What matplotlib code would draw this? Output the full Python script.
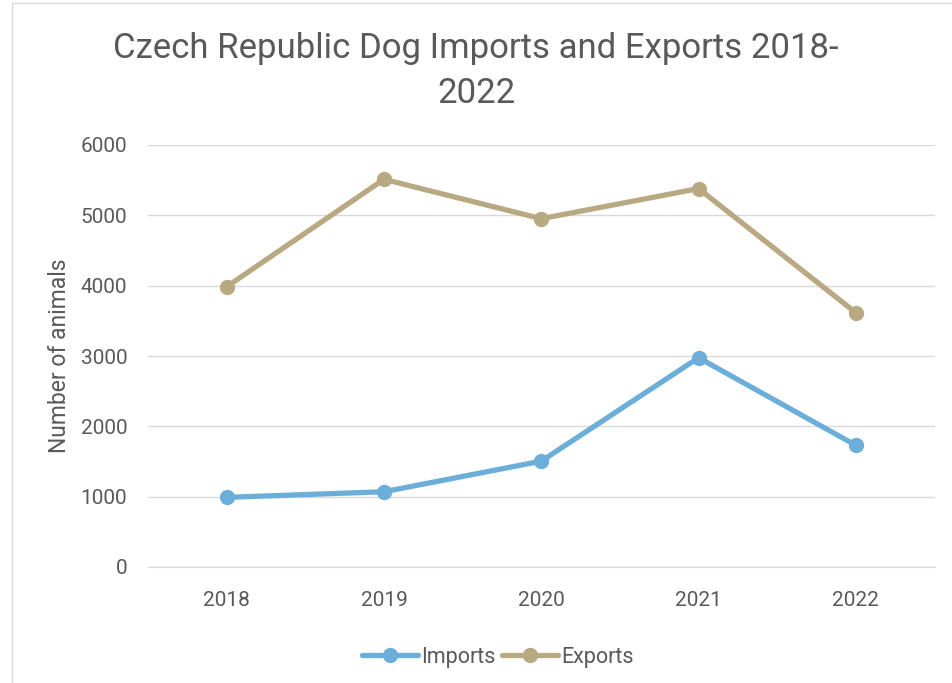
import matplotlib
matplotlib.use("Agg")
import matplotlib.pyplot as plt
from matplotlib.patches import Rectangle

years = ["2018", "2019", "2020", "2021", "2022"]
imports = [990, 1070, 1505, 2975, 1730]
exports = [3985, 5512, 4952, 5380, 3615]
yticks = [0, 1000, 2000, 3000, 4000, 5000, 6000]

plt.rcParams['font.family'] = ['Roboto', 'DejaVu Sans']
txt = '#595959'
c_imp = '#6CAEDA'
c_exp = '#B8A982'

fig = plt.figure(figsize=(9.52, 6.83), dpi=100)
fig.patches.append(Rectangle((12/952, -0.1), 1.2, (683-3)/683 + 0.1, transform=fig.transFigure,
                             fill=False, edgecolor='#D9D9D9', linewidth=1.0))
ax = fig.add_axes([148/952, (683-567)/683, (934.5-148)/952, (567-145)/683])

x = list(range(len(years)))
ax.plot(x, imports, color=c_imp, linewidth=3.8, marker='o', markersize=10, label='Imports',
        solid_capstyle='round')
ax.plot(x, exports, color=c_exp, linewidth=3.8, marker='o', markersize=10, label='Exports',
        solid_capstyle='round')

ax.set_xlim(-0.5, len(years) - 0.5)
ax.set_ylim(0, 6000)
ax.set_yticks(yticks)
ax.set_yticklabels([str(v) for v in yticks])
ax.set_xticks(x)
ax.set_xticklabels(years)
ax.yaxis.grid(True, color='#D9D9D9', linewidth=1.0)
ax.set_axisbelow(True)
for s in ['top', 'right', 'left']:
    ax.spines[s].set_visible(False)
ax.spines['bottom'].set_color('#D9D9D9')
ax.tick_params(axis='both', length=0, labelsize=15, colors=txt)
ax.tick_params(axis='x', pad=17)
ax.tick_params(axis='y', pad=15)
ax.set_ylabel('Number of animals', fontsize=16.5, color=txt, labelpad=7)

fig.text(0.5, 1 - 71/683, 'Czech Republic Dog Imports and Exports 2018-\n2022', ha='center', va='center',
         fontsize=25, color=txt, linespacing=1.44)

leg = fig.legend(loc='center', bbox_to_anchor=(0.523, 1 - 657/683), ncol=2, frameon=False,
                 fontsize=15.5, handlelength=2.6, handletextpad=0.15, columnspacing=0.3)
for t in leg.get_texts():
    t.set_color(txt)

fig.savefig('out.png', dpi=100)
